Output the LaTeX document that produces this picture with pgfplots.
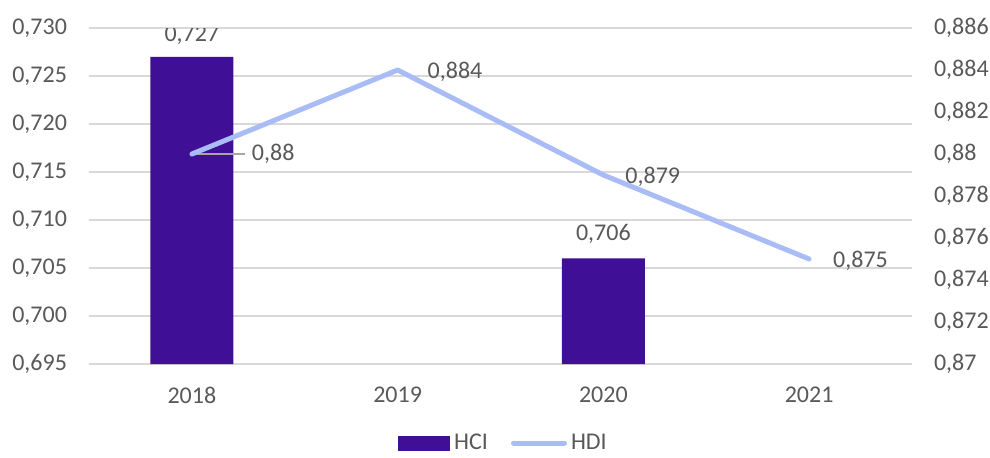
\documentclass[border=0pt]{standalone}
\usepackage{fontspec}
\setmainfont{Carlito}
\usepackage{pgfplots}
\pgfplotsset{compat=1.18}
\definecolor{hci}{HTML}{3F0F96}
\definecolor{hdi}{HTML}{A9BCF5}
\definecolor{txt}{HTML}{595959}
\definecolor{grd}{HTML}{D9D9D9}
\definecolor{lead}{HTML}{A6A6A6}
\begin{document}
\begin{tikzpicture}[font=\fontsize{12pt}{14pt}\selectfont]
\path[use as bounding box] (-44.5pt,-46.5pt) rectangle (450.5pt,182pt);
\begin{axis}[
  at={(0,0)}, anchor=south west,
  scale only axis, width=411.5pt, height=168pt,
  xmin=-0.5, xmax=3.5, ymin=0.695, ymax=0.730,
  xtick={0,1,2,3}, xticklabels={2018,2019,2020,2021},
  ytick={0.695,0.700,0.705,0.710,0.715,0.720,0.725,0.730},
  scaled y ticks=false,
  yticklabel={\pgfmathprintnumber[fixed,fixed zerofill,precision=3,use comma,assume math mode=true]{\tick}},
  ymajorgrids, grid style={grd, line width=0.6pt},
  axis line style={draw=none}, major tick length=0pt,
  tick label style={text=txt, font=\fontsize{12pt}{14pt}\selectfont},
  yticklabel style={xshift=-7.5pt},
  xticklabel style={yshift=-8pt},
  legend style={draw=none, fill=none, at={(0.5,0)}, anchor=center, yshift=-39.5pt, xshift=2pt,
    legend columns=2, /tikz/every even column/.append style={column sep=9.5pt},
    font=\fontsize{12pt}{14pt}\selectfont, text=txt, inner sep=1pt},
  legend cell align=left,
]
\addplot[ybar, bar width=41.5pt, fill=hci, draw=none,
  legend image code/.code={\fill[hci] (0pt,-4pt) rectangle (26pt,3.5pt);}]
  coordinates {(0,0.727) (2,0.706)};
\addlegendentry{HCI}
\addlegendimage{legend image code/.code={\draw[hdi, line width=2.5pt, line cap=round] (1.25pt,0pt) -- (26.75pt,0pt);}}
\addlegendentry{HDI}
\node[text=txt, yshift=11pt] at (axis cs:0,0.727) {0,727};
\node[text=txt, yshift=12pt] at (axis cs:2,0.706) {0,706};
\end{axis}
\begin{axis}[
  at={(0,0)}, anchor=south west,
  scale only axis, width=411.5pt, height=168pt,
  xmin=-0.5, xmax=3.5, ymin=0.870, ymax=0.886,
  axis y line*=right, hide x axis,
  axis line style={draw=none}, major tick length=0pt,
  ytick={0.870,0.872,0.874,0.876,0.878,0.880,0.882,0.884,0.886},
  scaled y ticks=false,
  yticklabel={\pgfmathprintnumber[fixed,precision=3,use comma,assume math mode=true]{\tick}},
  tick label style={text=txt, font=\fontsize{12pt}{14pt}\selectfont},
  yticklabel style={xshift=7.5pt},
  clip=false,
]
\draw[lead, line width=0.6pt] (axis cs:0,0.88) -- ++(26.5pt,0pt);
\addplot[hdi, line width=2.5pt, line join=round, line cap=round]
  coordinates {(0,0.880) (1,0.884) (2,0.879) (3,0.875)};
\node[text=txt, anchor=west, xshift=26.5pt] at (axis cs:0,0.880) {0,88};
\node[text=txt, anchor=west, xshift=11.5pt, yshift=-1pt] at (axis cs:1,0.884) {0,884};
\node[text=txt, anchor=west, xshift=7.5pt, yshift=-1pt] at (axis cs:2,0.879) {0,879};
\node[text=txt, anchor=west, xshift=8.5pt, yshift=-1pt] at (axis cs:3,0.875) {0,875};
\end{axis}
\end{tikzpicture}
\end{document}
